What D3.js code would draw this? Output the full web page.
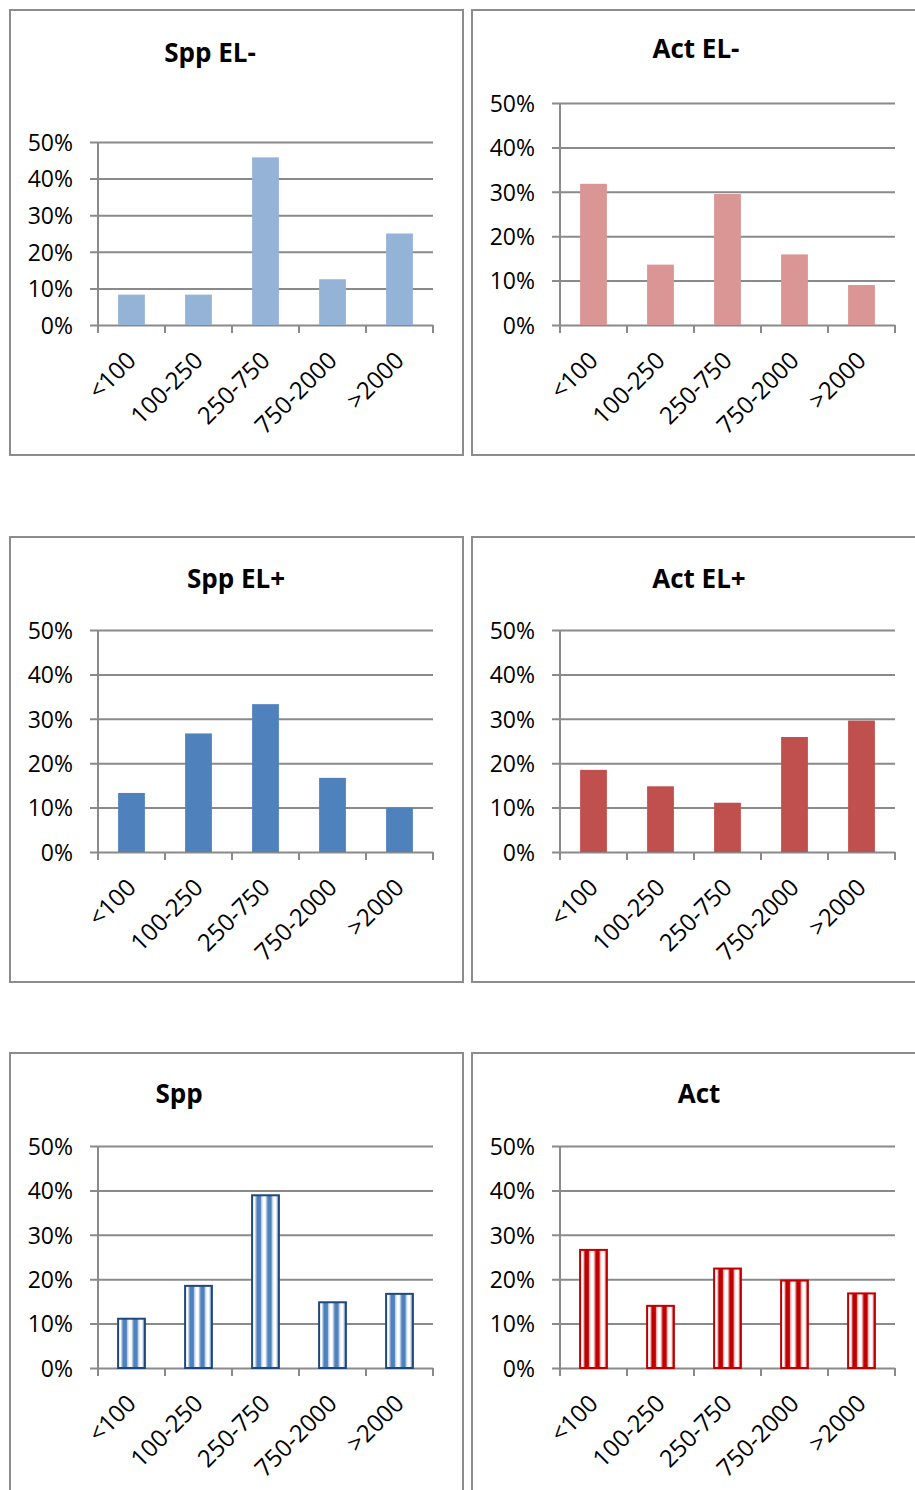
<!DOCTYPE html>
<html>
<head>
<meta charset="utf-8">
<script src="https://cdn.jsdelivr.net/npm/d3@7"></script>
<style>
  html, body { margin: 0; padding: 0; background: #fff; }
  svg { display: block; }
  text { font-family: "Open Sans", "Liberation Sans", sans-serif; fill: #000; }
</style>
</head>
<body>
<svg id="chart" width="915" height="1490"></svg>
<script>
// ---- data ----
const categories = ["<100", "100-250", "250-750", "750-2000", ">2000"];
const yTickValues = [0, 10, 20, 30, 40, 50];
const titles = ["Spp EL-", "Act EL-", "Spp EL+", "Act EL+", "Spp", "Act"];
const sppElMinus = [8.3, 8.3, 45.8, 12.5, 25.0];
const actElMinus = [31.8, 13.6, 29.5, 15.9, 9.0];
const sppElPlus  = [13.3, 26.7, 33.3, 16.7, 10.0];
const actElPlus  = [18.5, 14.8, 11.1, 25.9, 29.6];
const sppAll     = [11.1, 18.5, 38.9, 14.8, 16.7];
const actAll     = [26.6, 14.0, 22.4, 19.7, 16.8];

// ---- layout / styles ----
const panels = [
  { values: sppElMinus, box: [10, 10, 453, 445],  plot: [98, 433, 142, 325],   titlePos: [210, 62],  fill: "#95B3D7", stroke: "none" },
  { values: actElMinus, box: [472, 10, 460, 445], plot: [560, 895, 103, 325],  titlePos: [696, 58],  fill: "#D99694", stroke: "none" },
  { values: sppElPlus,  box: [10, 537, 453, 445], plot: [98, 433, 630, 852],   titlePos: [236, 588], fill: "#4F81BD", stroke: "none" },
  { values: actElPlus,  box: [472, 537, 460, 445],plot: [560, 895, 630, 852],  titlePos: [699, 588], fill: "#C0504D", stroke: "none" },
  { values: sppAll,     box: [10, 1053, 453, 460],plot: [98, 433, 1146, 1368], titlePos: [179, 1103],fill: "url(#stripeBlue)", stroke: "#1F497D" },
  { values: actAll,     box: [472, 1053, 460, 460],plot: [560, 895, 1146, 1368],titlePos: [699, 1103],fill: "url(#stripeRed)", stroke: "#C00000" }
];

const svg = d3.select("#chart");
const defs = svg.append("defs");

// stripe tile anchored at each bar's left edge (objectBoundingBox tiling)
function stripes(id, main, soft) {
  const tw = 10.72;
  const p = defs.append("pattern").attr("id", id)
    .attr("patternUnits", "objectBoundingBox").attr("x", 0).attr("y", 0)
    .attr("width", 0.4).attr("height", 1);
  p.append("rect").attr("x", 0).attr("y", 0).attr("width", tw).attr("height", 400).attr("fill", "#fff");
  p.append("rect").attr("x", 3).attr("y", 0).attr("width", 1.2).attr("height", 400).attr("fill", soft);
  p.append("rect").attr("x", 4.2).attr("y", 0).attr("width", 5).attr("height", 400).attr("fill", main);
  p.append("rect").attr("x", 9.2).attr("y", 0).attr("width", 1).attr("height", 400).attr("fill", soft);
}
stripes("stripeBlue", "#4F81BD", "#B9CDE5");
stripes("stripeRed", "#C00000", "#F2B8B8");

const gridColor = "#8A8A8A";

panels.forEach((p, i) => {
  const g = svg.append("g");
  const [bx, by, bw, bh] = p.box;
  g.append("rect").attr("x", bx).attr("y", by).attr("width", bw).attr("height", bh)
    .attr("fill", "#fff").attr("stroke", "#8C8C8C").attr("stroke-width", 2);

  const [l, r, t, b] = p.plot;
  const y = d3.scaleLinear().domain([0, 50]).range([b, t]);
  const x = d3.scaleBand().domain(categories).range([l, r]).paddingInner(0.6).paddingOuter(0.3);

  // gridlines + y tick labels
  const yAxis = d3.axisLeft(y).tickValues(yTickValues).tickSize(r - l + 8).tickFormat(d => d + "%");
  const ya = g.append("g").attr("transform", `translate(${r},0)`).call(yAxis);
  ya.select(".domain").remove();
  ya.selectAll(".tick line").attr("stroke", gridColor).attr("stroke-width", 2);
  ya.selectAll(".tick text").attr("font-size", 23).attr("fill", "#000")
    .attr("font-family", "'Open Sans', sans-serif").attr("x", -(r - l + 25)).attr("dy", "0.36em");

  // vertical axis line
  g.append("line").attr("x1", l).attr("x2", l).attr("y1", t).attr("y2", b + 8)
    .attr("stroke", gridColor).attr("stroke-width", 2);

  // x tick marks at category boundaries
  const step = x.step();
  const bounds = d3.range(categories.length + 1).map(k => l + k * step);
  g.selectAll(".xt").data(bounds).enter().append("line")
    .attr("x1", d => d).attr("x2", d => d).attr("y1", b).attr("y2", b + 8)
    .attr("stroke", gridColor).attr("stroke-width", 2);

  // bars
  g.selectAll(".bar").data(p.values).enter().append("rect")
    .attr("x", (d, k) => x(categories[k]))
    .attr("y", d => y(d))
    .attr("width", x.bandwidth())
    .attr("height", d => y(0) - y(d))
    .attr("fill", p.fill)
    .attr("stroke", p.stroke)
    .attr("stroke-width", p.stroke === "none" ? 0 : 2);

  // x labels rotated
  g.selectAll(".xl").data(categories).enter().append("text")
    .attr("text-anchor", "end")
    .attr("font-size", 24)
    .attr("transform", d => `translate(${x(d) + x.bandwidth() / 2 + 6},${b + 37}) rotate(-45)`)
    .text(d => d);

  // title
  g.append("text").attr("x", p.titlePos[0]).attr("y", p.titlePos[1])
    .attr("text-anchor", "middle").attr("font-size", 26).attr("font-weight", "bold")
    .text(titles[i]);
});
</script>
</body>
</html>
